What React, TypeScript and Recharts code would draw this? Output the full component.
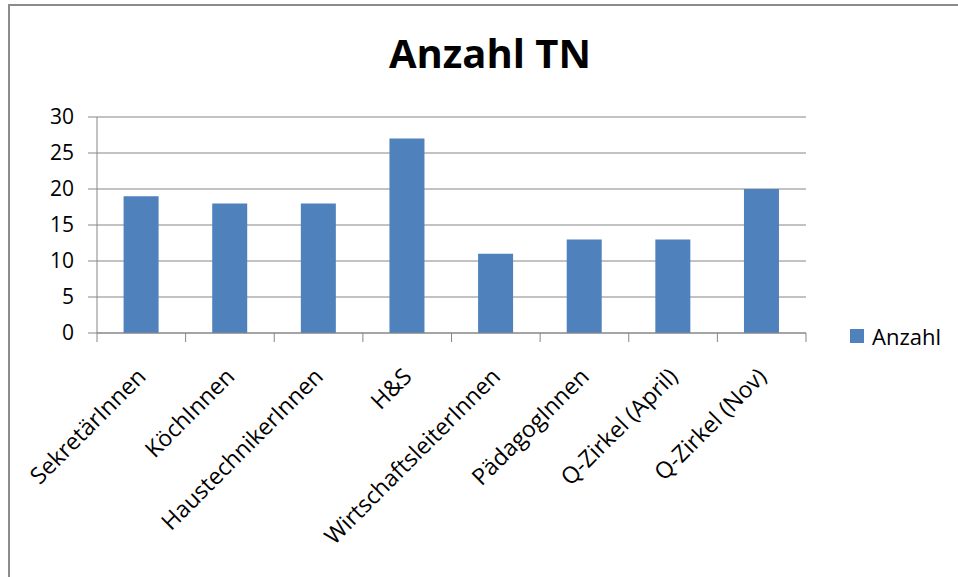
import React from "react";
import {
	BarChart,
	Bar,
	XAxis,
	YAxis,
	CartesianGrid,
	Legend,
} from "recharts";

const categories = [
	"SekretärInnen",
	"KöchInnen",
	"HaustechnikerInnen",
	"H&S",
	"WirtschaftsleiterInnen",
	"PädagogInnen",
	"Q-Zirkel (April)",
	"Q-Zirkel (Nov)",
];
const anzahl = [19, 18, 18, 27, 11, 13, 13, 20];
const yTicks = [0, 5, 10, 15, 20, 25, 30];

const data = categories.map((name, i) => ({ name, anzahl: anzahl[i] }));

const FONT = "'Open Sans', sans-serif";
const GRID = "#868686";
const BLUE = "#4F81BD";

// category label rotated 45°, plus tick marks on the band edges
const CategoryTick = (props: any) => {
	const { x, y, payload, index, visibleTicksCount } = props;
	const half = payload?.offset ?? 44;
	const tx = x + 6;
	const ty = y + 45;
	return (
		<g>
			<line x1={x - half} x2={x - half} y1={y} y2={y + 9} stroke={GRID} />
			{index === visibleTicksCount - 1 && (
				<line x1={x + half} x2={x + half} y1={y} y2={y + 9} stroke={GRID} />
			)}
			<text
				x={tx}
				y={ty}
				transform={`rotate(-45, ${tx}, ${ty})`}
				textAnchor="end"
				fontFamily={FONT}
				fontSize={23}
				fill="#000"
			>
				{payload.value}
			</text>
		</g>
	);
};

const LegendContent = () => (
	<div style={{ display: "flex", alignItems: "center", fontFamily: FONT, fontSize: 22, color: "#000" }}>
		<span style={{ width: 14, height: 14, background: BLUE, marginRight: 8 }} />
		<span>Anzahl</span>
	</div>
);

const App = () => {
	return (
		<div style={{ position: "absolute", left: 0, top: 0, width: 958, height: 577, overflow: "hidden", background: "#fff" }}>
			<div
				style={{
					position: "absolute",
					left: 8,
					top: 4,
					width: 980,
					height: 600,
					borderTop: "2px solid #8c8c8c",
					borderLeft: "2px solid #8c8c8c",
				}}
			/>
			<div
				style={{
					position: "absolute",
					left: 10,
					width: 960,
					top: 33,
					textAlign: "center",
					fontFamily: FONT,
					fontWeight: 700,
					fontSize: 40,
					lineHeight: "40px",
					color: "#000",
				}}
			>
				Anzahl TN
			</div>
			<div style={{ position: "absolute", left: 0, top: 0 }}>
				<BarChart
					width={958}
					height={577}
					data={data}
					barCategoryGap="30%"
					margin={{ top: 117, right: 152, left: 37, bottom: 44 }}
				>
					<CartesianGrid horizontal vertical={false} stroke={GRID} strokeWidth={1} />
					<XAxis
						dataKey="name"
						height={200}
						interval={0}
						axisLine={{ stroke: GRID }}
						tickLine={false}
						tickSize={0}
						tickMargin={0}
						tick={<CategoryTick />}
					/>
					<YAxis
						width={60}
						domain={[0, 30]}
						ticks={yTicks}
						interval={0}
						axisLine={{ stroke: GRID }}
						tickLine={{ stroke: GRID }}
						tickSize={9}
						tickMargin={14}
						tick={{ fontFamily: FONT, fontSize: 21, fill: "#000" }}
					/>
					<Legend
						layout="horizontal"
						verticalAlign="middle"
						align="center"
						content={<LegendContent />}
						wrapperStyle={{ left: 850, top: 321, width: 110, height: 28 }}
					/>
					<Bar dataKey="anzahl" name="Anzahl" fill={BLUE} isAnimationActive={false} />
				</BarChart>
			</div>
		</div>
	);
};

export default App;
